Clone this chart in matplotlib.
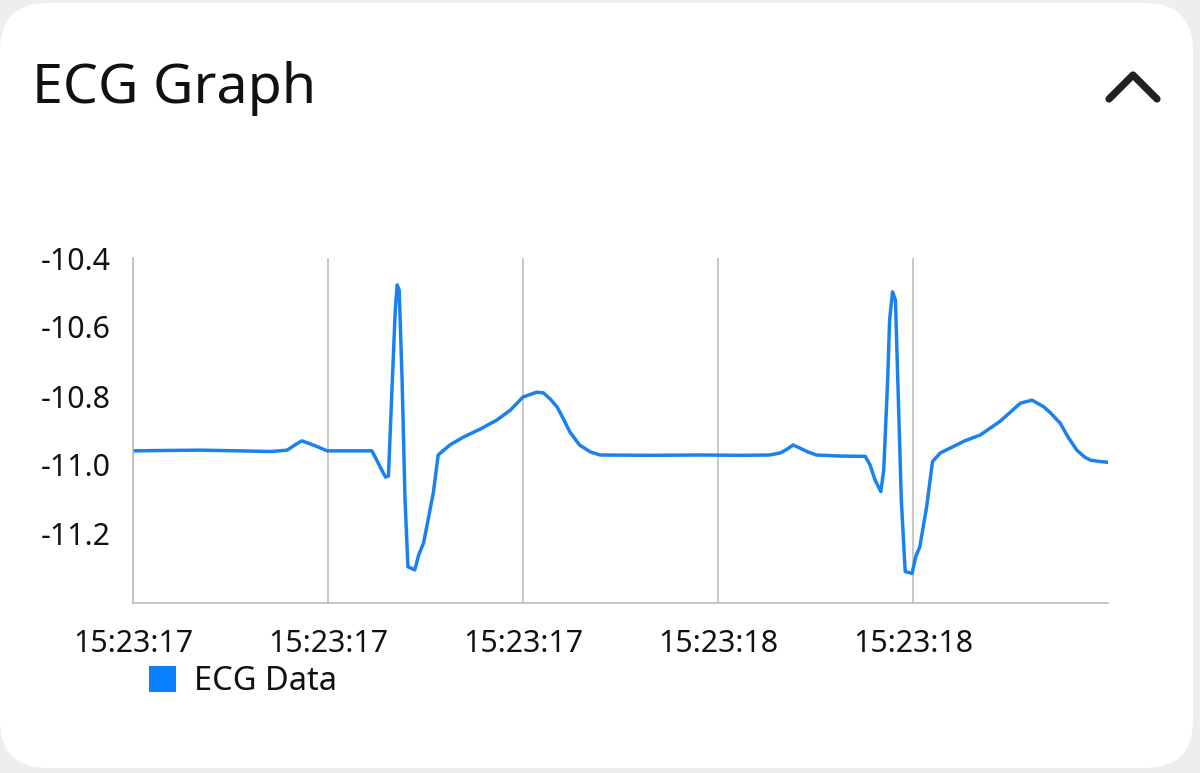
import matplotlib
matplotlib.use("Agg")
import matplotlib.pyplot as plt
from matplotlib.patches import FancyBboxPatch, Rectangle
from matplotlib.lines import Line2D

plt.rcParams['font.family'] = ['Noto Sans', 'DejaVu Sans']

# ---- data (time in ms from first tick, ECG value) ----
time_ms = [0, 28, 69, 110, 141, 158, 166, 173, 182, 190, 199, 212, 245, 250, 255, 259, 262,
           266, 269, 271, 273, 276, 279, 282, 289, 293, 298, 303, 308, 313, 325, 339, 356,
           373, 387, 400, 414, 421, 428, 435, 441, 448, 458, 469, 479, 530, 582, 623, 653,
           664, 671, 677, 684, 692, 701, 725, 751, 756, 761, 767, 770, 774, 776, 779, 782,
           785, 788, 792, 799, 803, 807, 814, 820, 828, 841, 853, 869, 889, 899, 910, 922,
           934, 941, 951, 959, 968, 976, 982, 992, 1000]
ecg_values = [-10.959, -10.958, -10.957, -10.959, -10.961, -10.957, -10.942, -10.930, -10.939,
              -10.948, -10.959, -10.959, -10.959, -10.986, -11.014, -11.035, -11.032,
              -10.754, -10.551, -10.478, -10.493, -10.754, -11.101, -11.295, -11.304,
              -11.261, -11.226, -11.154, -11.081, -10.971, -10.942, -10.919, -10.896,
              -10.870, -10.841, -10.803, -10.789, -10.791, -10.809, -10.832, -10.864,
              -10.904, -10.942, -10.962, -10.971, -10.972, -10.971, -10.972, -10.971,
              -10.965, -10.954, -10.942, -10.951, -10.962, -10.971, -10.974, -10.975,
              -11.000, -11.043, -11.077, -11.014, -10.754, -10.580, -10.498, -10.522,
              -10.812, -11.101, -11.309, -11.314, -11.264, -11.237, -11.121, -10.990,
              -10.965, -10.947, -10.930, -10.913, -10.874, -10.849, -10.821, -10.812,
              -10.831, -10.849, -10.879, -10.919, -10.957, -10.977, -10.986, -10.990, -10.992]

x_ticks = [0, 200, 400, 600, 800]
x_tick_labels = ["15:23:17", "15:23:17", "15:23:17", "15:23:18", "15:23:18"]
y_ticks = [-10.4, -10.6, -10.8, -11.0, -11.2]
y_tick_labels = ["-10.4", "-10.6", "-10.8", "-11.0", "-11.2"]

title = "ECG Graph"
legend_label = "ECG Data"
line_color = "#1a82ee"
legend_color = "#0a80fc"

W, H = 1200, 773
fig = plt.figure(figsize=(W / 100, H / 100), dpi=100)
fig.patch.set_facecolor("#eeeeee")

# card background
card = FancyBboxPatch((0 / W, 1 - 768 / H), 1193 / W, (768 - 3) / H,
                      boxstyle="round,pad=0,rounding_size=0.04",
                      transform=fig.transFigure, facecolor="white", edgecolor="none",
                      mutation_aspect=W / H, zorder=-10)
fig.patches.append(card)

# title
fig.text(32 / W, 1 - 88 / H, title, fontsize=40, fontweight="medium",
         color="#111111", va="center", ha="left")

# chevron
fig.add_artist(Line2D([1109 / W, 1133 / W, 1157 / W],
                      [1 - 99 / H, 1 - 75 / H, 1 - 99 / H],
                      transform=fig.transFigure, color="#222222", linewidth=5.2,
                      solid_capstyle="round", solid_joinstyle="round"))

ax = fig.add_axes([133 / W, 1 - 603 / H, (1108 - 133) / W, (603 - 258) / H])
ax.set_zorder(5)
ax.set_facecolor("none")
ax.plot(time_ms, ecg_values, color=line_color, linewidth=2.5, solid_joinstyle="round")

ax.set_xlim(0, 1000)
ax.set_ylim(-11.4, -10.4)
ax.set_xticks(x_ticks)
ax.set_xticklabels(x_tick_labels)
ax.set_yticks(y_ticks)
ax.set_yticklabels(y_tick_labels)
ax.tick_params(axis="both", length=0, labelsize=21.8, colors="#111111")
ax.tick_params(axis="x", pad=19)
ax.tick_params(axis="y", pad=16)
ax.grid(axis="x", color="#bdbdbd", linewidth=1.2)
ax.set_axisbelow(True)
for s in ["top", "right"]:
    ax.spines[s].set_visible(False)
for s in ["left", "bottom"]:
    ax.spines[s].set_color("#bdbdbd")
    ax.spines[s].set_linewidth(1.2)

# legend
fig.patches.append(Rectangle((149 / W, 1 - 692 / H), 27 / W, 26 / H,
                             transform=fig.transFigure, facecolor=legend_color,
                             edgecolor="none"))
fig.text(194 / W, 1 - 681 / H, legend_label, fontsize=23.5, color="#111111",
         va="center", ha="left")

fig.savefig("out.png", dpi=100)
